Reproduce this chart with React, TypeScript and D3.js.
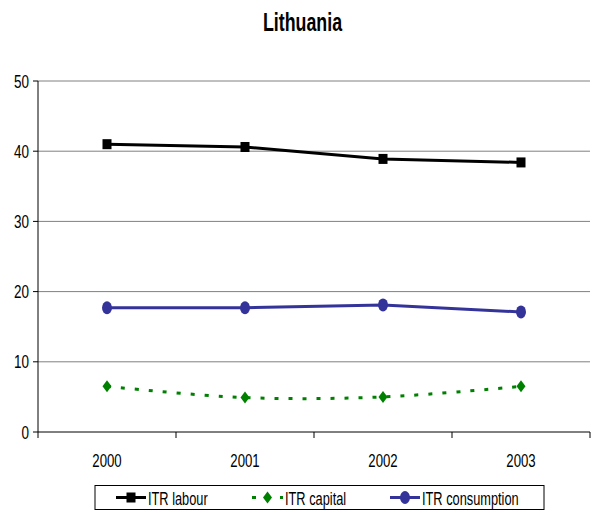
import React, { useRef, useEffect } from "react";
import * as d3 from "d3";

const years = ["2000", "2001", "2002", "2003"];
const itrLabour = [41.0, 40.6, 38.9, 38.4];
const itrCapital = [6.5, 4.9, 5.0, 6.5];
const itrConsumption = [17.7, 17.7, 18.1, 17.1];
const yTicks = [0, 10, 20, 30, 40, 50];
const legendLabels = ["ITR labour", "ITR capital", "ITR consumption"];

const App = () => {
  const svgRef = useRef<SVGSVGElement>(null);
  const width = 591;
  const height = 511;

  useEffect(() => {
    const svg = d3.select(svgRef.current);
    svg.selectAll("*").remove();
    const font = "'Liberation Sans', Arial, sans-serif";
    const stretch = 1.4; // text in the original is stretched vertically

    const left = 38;
    const right = 590;
    const top = 81;
    const bottom = 432;

    const x = d3.scaleBand().domain(years).range([left, right]);
    const y = d3.scaleLinear().domain([0, 50]).range([bottom, top]);

    const addText = (
      g: any,
      tx: number,
      ty: number,
      t: string,
      size: number,
      anchor = "start",
      bold = false
    ) =>
      g
        .append("text")
        .attr("transform", `translate(${tx},${ty}) scale(1,${stretch})`)
        .attr("text-anchor", anchor)
        .attr("font-family", font)
        .attr("font-size", size)
        .attr("font-weight", bold ? "bold" : "normal")
        .attr("fill", "#000")
        .text(t);

    // title
    addText(svg, 302.5, 31, "Lithuania", 17.8, "middle", true);

    // gridlines
    svg
      .selectAll(".grid")
      .data(yTicks.filter((d) => d > 0))
      .join("line")
      .attr("x1", left)
      .attr("x2", right)
      .attr("y1", (d) => y(d))
      .attr("y2", (d) => y(d))
      .attr("stroke", "#808080")
      .attr("stroke-width", 1);

    // y axis
    const yg = svg.append("g");
    yg.append("line")
      .attr("x1", left)
      .attr("x2", left)
      .attr("y1", top)
      .attr("y2", bottom)
      .attr("stroke", "#000");
    yg.selectAll(".tk")
      .data(yTicks)
      .join("line")
      .attr("x1", left - 5)
      .attr("x2", left)
      .attr("y1", (d) => y(d))
      .attr("y2", (d) => y(d))
      .attr("stroke", "#000");
    yTicks.forEach((d) => addText(yg, 29, y(d) + 6.5, String(d), 13.5, "end"));

    // x axis
    const xg = svg.append("g");
    xg.append("line")
      .attr("x1", left)
      .attr("x2", right)
      .attr("y1", bottom)
      .attr("y2", bottom)
      .attr("stroke", "#000");
    const bounds = years.map((d) => x(d) as number).concat([right]);
    xg.selectAll(".tk")
      .data(bounds)
      .join("line")
      .attr("x1", (d) => d)
      .attr("x2", (d) => d)
      .attr("y1", bottom)
      .attr("y2", bottom + 6)
      .attr("stroke", "#000");
    years.forEach((d) =>
      addText(xg, (x(d) as number) + x.bandwidth() / 2, 467, d, 13.2, "middle")
    );

    const cx = (i: number) => (x(years[i]) as number) + x.bandwidth() / 2;

    // lines
    const straight = d3
      .line<number>()
      .x((d, i) => cx(i))
      .y((d) => y(d));
    const smooth = d3
      .line<number>()
      .x((d, i) => cx(i))
      .y((d) => y(d))
      .curve(d3.curveCatmullRom.alpha(0.5));

    svg
      .append("path")
      .attr("d", straight(itrLabour))
      .attr("fill", "none")
      .attr("stroke", "#000")
      .attr("stroke-width", 3);
    svg
      .append("path")
      .attr("d", smooth(itrCapital))
      .attr("fill", "none")
      .attr("stroke", "#008000")
      .attr("stroke-width", 3)
      .attr("stroke-dasharray", "4 10");
    svg
      .append("path")
      .attr("d", straight(itrConsumption))
      .attr("fill", "none")
      .attr("stroke", "#333399")
      .attr("stroke-width", 3);

    // markers
    svg
      .selectAll(".sq")
      .data(itrLabour)
      .join("rect")
      .attr("x", (d, i) => cx(i) - 4.5)
      .attr("y", (d) => y(d) - 5)
      .attr("width", 9)
      .attr("height", 10)
      .attr("fill", "#000");
    const diamond = (px: number, py: number) =>
      `M${px},${py - 6}L${px + 4.5},${py}L${px},${py + 6}L${px - 4.5},${py}Z`;
    svg
      .selectAll(".dm")
      .data(itrCapital)
      .join("path")
      .attr("d", (d, i) => diamond(cx(i), y(d)))
      .attr("fill", "#008000");
    svg
      .selectAll(".ci")
      .data(itrConsumption)
      .join("ellipse")
      .attr("cx", (d, i) => cx(i))
      .attr("cy", (d) => y(d))
      .attr("rx", 5)
      .attr("ry", 6.5)
      .attr("fill", "#333399");

    // legend
    const lg = svg.append("g");
    lg.append("rect")
      .attr("x", 95)
      .attr("y", 485.5)
      .attr("width", 449)
      .attr("height", 24)
      .attr("fill", "#fff")
      .attr("stroke", "#000")
      .attr("stroke-width", 1);
    const ly = 497.5;
    // labour
    lg.append("line")
      .attr("x1", 116)
      .attr("x2", 146)
      .attr("y1", ly)
      .attr("y2", ly)
      .attr("stroke", "#000")
      .attr("stroke-width", 3);
    lg.append("rect")
      .attr("x", 126.5)
      .attr("y", ly - 5)
      .attr("width", 9)
      .attr("height", 10)
      .attr("fill", "#000");
    // capital
    lg.append("line")
      .attr("x1", 252)
      .attr("x2", 283)
      .attr("y1", ly)
      .attr("y2", ly)
      .attr("stroke", "#008000")
      .attr("stroke-width", 3)
      .attr("stroke-dasharray", "4 10");
    lg.append("path").attr("d", diamond(267.5, ly)).attr("fill", "#008000");
    // consumption
    lg.append("line")
      .attr("x1", 390)
      .attr("x2", 420)
      .attr("y1", ly)
      .attr("y2", ly)
      .attr("stroke", "#333399")
      .attr("stroke-width", 3);
    lg.append("ellipse")
      .attr("cx", 405)
      .attr("cy", ly)
      .attr("rx", 5)
      .attr("ry", 6.5)
      .attr("fill", "#333399");

    const legendX = [148, 285, 422];
    legendLabels.forEach((t, i) => addText(lg, legendX[i], ly + 7, t, 12.8));
  }, []);

  return (
    <svg
      ref={svgRef}
      width={width}
      height={height}
      style={{ position: "absolute", left: 0, top: 0 }}
    ></svg>
  );
};

export default App;
